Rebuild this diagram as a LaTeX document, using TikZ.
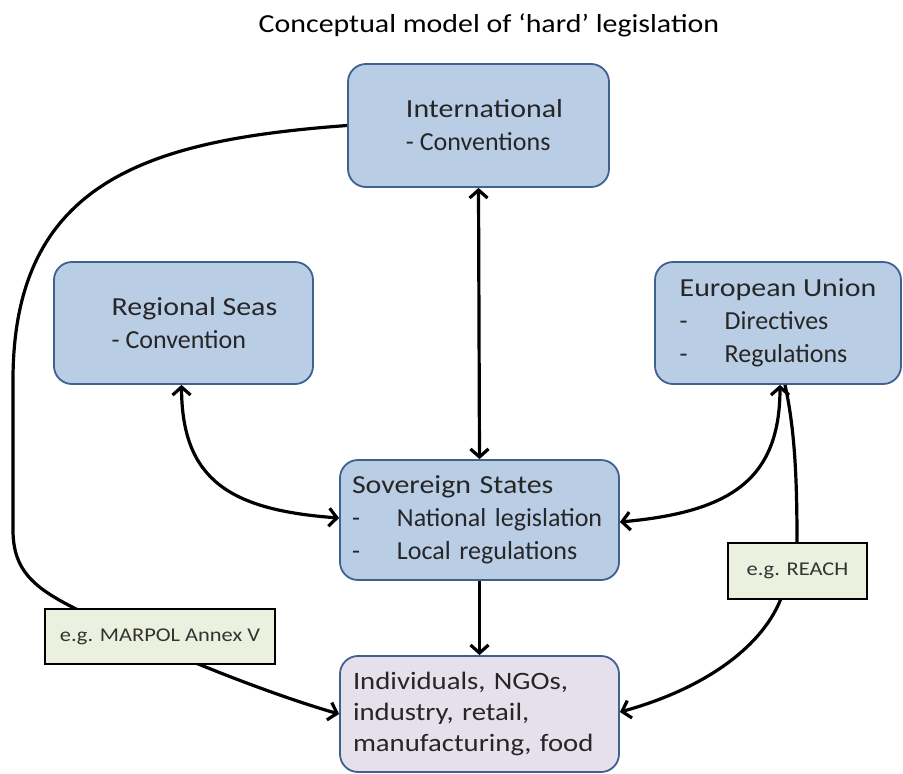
\documentclass[tikz,border=0pt]{standalone}
\usepackage{fontspec}
\setmainfont{Carlito}[FakeStretch=1.15]
\newfontfamily\plainfont{Carlito}
\usetikzlibrary{arrows.meta}
\definecolor{boxfill}{HTML}{B9CDE5}
\definecolor{boxline}{HTML}{3F6190}
\definecolor{indfill}{HTML}{E5E0EC}
\definecolor{labfill}{HTML}{EBF1DE}
\newcommand\subline{\plainfont\fontsize{26}{33}\selectfont}
\newcommand\dashgap{-\hspace{37pt}}
\tikzset{
  blbox/.style={draw=boxline, fill=boxfill, line width=1.8pt, rounded corners=18pt,
    align=left, font=\fontsize{26}{33}\selectfont, text=black!85},
  labbox/.style={draw=black, fill=labfill, line width=1.5pt, font=\fontsize{19.5}{24}\selectfont, text=black!80},
  conn/.style={line width=3.2pt, black},
  tip/.style={-{Straight Barb[length=8pt,width=18pt]}},
  tips/.style={{Straight Barb[length=8pt,width=18pt]}-{Straight Barb[length=8pt,width=18pt]}}
}
\begin{document}
\begin{tikzpicture}[x=1pt,y=-1pt]
\path[use as bounding box, fill=white] (0,0) rectangle (903,774);
\node (title) at (489,25) {\fontsize{26}{30}\selectfont Conceptual model of ‘hard’ legislation};
\node[blbox, minimum width=261pt, minimum height=123pt] (int) at (478.5,125.5)
  {\hspace*{12pt}International\\\hspace*{12pt}{\subline - Conventions}};
\node[blbox, minimum width=259pt, minimum height=122pt] (reg) at (183.5,323)
  {\hspace*{22pt}Regional Seas\\\hspace*{22pt}{\subline - Convention}};
\node[blbox, minimum width=246pt, minimum height=122pt] (eu) at (778,323)
  {European Union\\{\subline\dashgap Directives}\\{\subline\dashgap Regulations}};
\node[blbox, inner xsep=0pt, text width=255pt, minimum width=279pt, minimum height=120pt] (sov) at (479.5,520)
  {Sovereign States\\{\subline\dashgap National legislation}\\{\subline\dashgap Local regulations}};
\node[blbox, fill=indfill, inner xsep=0pt, text width=253pt, minimum width=279pt, minimum height=116pt,
  font=\fontsize{25}{31}\selectfont] (ind) at (479.5,714)
  {Individuals, NGOs,\\industry, retail,\\manufacturing, food};
% connectors
\draw[conn, tips] (int.south) -- (sov.north);
\draw[conn, tip] (sov.south) -- (ind.north);
\draw[conn, tips] ([xshift=-2pt]reg.south) .. controls (182,480) and (230,510) .. ([yshift=2pt]sov.west);
\draw[conn, tips] ([xshift=2pt]eu.south) .. controls (780,480) and (730,512) .. ([yshift=-2pt]sov.east);
\draw[conn, tip] (int.west) .. controls (150,140) and (13,180) .. (13,380) -- (13,530)
  .. controls (13,580) and (45,595) .. (110,625) .. controls (200,668) and (290,700) .. (ind.west);
\node[labbox, minimum width=230pt, minimum height=55pt] (marpol) at (160,636.5) {e.g. MARPOL Annex V};
\node[labbox, minimum width=139pt, minimum height=56pt] (reach) at (797.5,571) {e.g. REACH};
\draw[conn] ([xshift=7pt]eu.south) .. controls (795,430) and (797,480) .. ([xshift=-0.5pt]reach.north);
\draw[conn, tip] ([xshift=-17pt]reach.south) .. controls (760,650) and (700,690) .. ([yshift=2pt]ind.east);
\end{tikzpicture}
\end{document}
